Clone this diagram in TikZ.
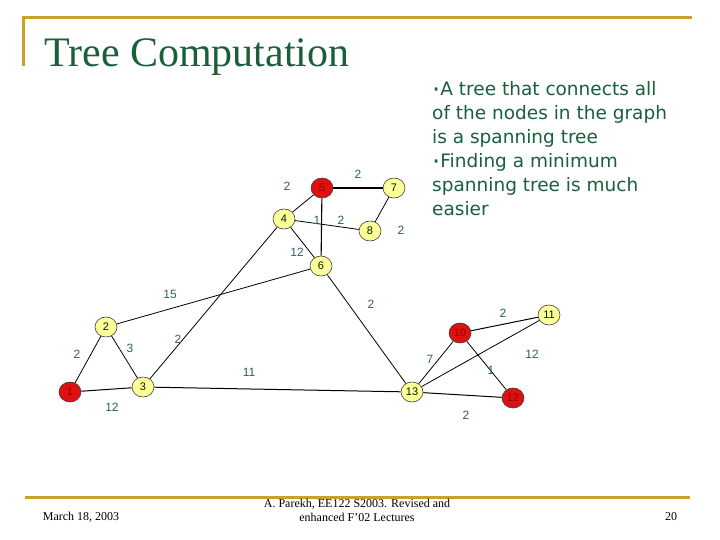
\documentclass[tikz,border=0pt]{standalone}
\usepackage{fontspec}
\setmainfont{Liberation Serif}
\newfontfamily\labfont{Liberation Sans}
\newfontfamily\sidefont{DejaVu Sans}
\usetikzlibrary{shapes.geometric}
\definecolor{gold}{HTML}{C9A227}
\definecolor{titlegreen}{HTML}{1B5E3B}
\definecolor{labteal}{HTML}{2F5F5F}
\definecolor{ylw}{HTML}{FFFF99}
\definecolor{rd}{HTML}{DD1111}
\tikzset{
  gnode/.style={ellipse, draw=black!75, line width=0.6pt, minimum width=22pt, minimum height=20pt, inner sep=0pt, font=\labfont\fontsize{11}{11}\selectfont},
  yn/.style={gnode, fill=ylw, text=black!70!green!40!black},
  rn/.style={gnode, fill=rd, text=red!60!black},
  edge/.style={draw=black, line width=0.8pt},
  wlab/.style={text=labteal, font=\labfont\fontsize{12}{12}\selectfont, inner sep=0pt}
}
\newcommand{\sdot}{\raisebox{-0.3ex}{\scalebox{1.4}{·}}}
\begin{document}
\begin{tikzpicture}[x=1pt,y=-1pt]
\useasboundingbox (0,0) rectangle (720,540);
% frame lines
\draw[gold, line width=3pt] (22,18) -- (692,18);
\draw[gold, line width=3pt] (23,18) -- (23,66);
\draw[gold, line width=3pt] (25,497) -- (690,497);
% title
\node[anchor=base west, inner sep=0pt, text=titlegreen, font=\fontsize{42}{42}\selectfont] (title) at (44,67) {Tree Computation};
% side text
\node[anchor=north west, inner sep=0pt, align=left, text=titlegreen, font=\sidefont\fontsize{18.5}{24}\selectfont] (side) at (432,81)
{\sdot A tree that connects all\\of the nodes in the graph\\is a spanning tree\\\sdot Finding a minimum\\spanning tree is much\\easier};
% nodes
\node[rn] (n5) at (322,188) {5};
\node[yn] (n7) at (394,188) {7};
\node[yn] (n4) at (284,219) {4};
\node[yn] (n8) at (370,231) {8};
\node[yn] (n6) at (321,266) {6};
\node[yn] (n2) at (106,327) {2};
\node[rn] (n1) at (70,392) {1};
\node[yn] (n3) at (143,387) {3};
\node[yn] (n13) at (412,392) {13};
\node[rn] (n10) at (460,333) {10};
\node[yn] (n11) at (549,315) {11};
\node[rn] (n12) at (513,398) {12};
% edges
\draw[edge, line width=1.1pt] (n5) -- (n7);
\draw[edge] (n5) -- (n4);
\draw[edge, line width=1.1pt] (n5) -- (n6);
\draw[edge] (n4) -- (n8);
\draw[edge] (n7) -- (n8);
\draw[edge] (n4) -- (n6);
\draw[edge] (n4) -- (n3);
\draw[edge] (n6) -- (n2);
\draw[edge] (n6) -- (n13);
\draw[edge] (n2) -- (n1);
\draw[edge] (n2) -- (n3);
\draw[edge, line width=1pt] (n1) -- (n3);
\draw[edge, line width=1pt] (n3) -- (n13);
\draw[edge] (n13) -- (n10);
\draw[edge] (n13) -- (n11);
\draw[edge, line width=1pt] (n13) -- (n12);
\draw[edge, line width=1pt] (n10) -- (n11);
\draw[edge] (n10) -- (n12);
% weights
\node[wlab] (w57) at (358,174) {2};
\node[wlab] (w54) at (287,186) {2};
\node[wlab] (w56) at (317,220) {1};
\node[wlab] (w48) at (341,220) {2};
\node[wlab] (w78) at (401,230) {2};
\node[wlab] (w46) at (297,252) {12};
\node[wlab] (w43) at (178,339) {2};
\node[wlab] (w62) at (170,294) {15};
\node[wlab] (w613) at (371,304) {2};
\node[wlab] (w21) at (77,354) {2};
\node[wlab] (w23) at (130,348) {3};
\node[wlab] (w13) at (112,407) {12};
\node[wlab] (w313) at (249,372) {11};
\node[wlab] (w1310) at (430,359) {7};
\node[wlab] (w1311) at (532,354) {12};
\node[wlab] (w1312) at (466,415) {2};
\node[wlab] (w1011) at (503,313) {2};
\node[wlab] (w1012) at (491,370) {1};
% footer
\node[inner sep=0pt, font=\fontsize{12}{14}\selectfont] (date) at (81,517) {March 18, 2003};
\node[inner sep=0pt, align=center, font=\fontsize{12}{14}\selectfont] (credit) at (357,510) {A. Parekh, EE122 S2003. Revised and\\enhanced F'02 Lectures};
\node[inner sep=0pt, font=\fontsize{12}{14}\selectfont] (page) at (671,517) {20};
\end{tikzpicture}
\end{document}
